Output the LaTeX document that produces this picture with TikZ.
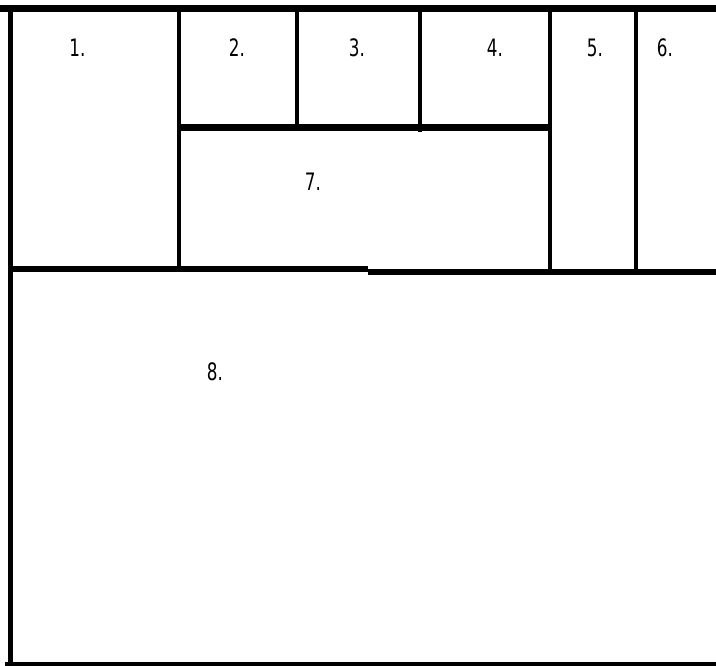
\documentclass[tikz,border=0pt]{standalone}
\usepackage{fontspec}
\newfontfamily\planfont[FakeStretch=0.7]{DejaVu Sans}
\begin{document}
\begin{tikzpicture}[x=1pt, y=-1pt,
    wall/.style={line width=5pt, black},
    room/.style={font=\planfont\fontsize{24}{26}\selectfont}]
    \useasboundingbox (0,0) rectangle (716,666);

    \coordinate (TL) at (10,9);
    \coordinate (TR) at (716,9);
    \coordinate (BL) at (10,664);
    \coordinate (BR) at (716,664);

    % outer walls
    \draw[wall, line width=7pt] (0,9) -- (TR);
    \draw[wall] (TL) -- (10,666);
    \draw[wall, line width=4pt] (5,664) -- (BR);

    % upper row
    \draw[wall, line width=4pt] (178.5,9) -- (178.5,269);
    \draw[wall, line width=4pt] (297,9) -- (297,130);
    \draw[wall, line width=4pt] (419.5,9) -- (419.5,132);
    \draw[wall, line width=4pt] (550,9) -- (550,274);
    \draw[wall, line width=4pt] (635.5,9) -- (635.5,274);
    \draw[wall, line width=7pt] (178.5,128) -- (550,128);

    % long wall with a step
    \draw[wall, line width=6pt] (10,269.5) -- (368,269.5);
    \draw[wall, line width=6pt] (368,272) -- (716,272);

    \node[room] (r1) at (77.5,48) {1.};
    \node[room] (r2) at (237,48) {2.};
    \node[room] (r3) at (357,48) {3.};
    \node[room] (r4) at (495,48) {4.};
    \node[room] (r5) at (595,48) {5.};
    \node[room] (r6) at (665,48) {6.};
    \node[room] (r7) at (313,182) {7.};
    \node[room] (r8) at (215,372) {8.};
\end{tikzpicture}
\end{document}
